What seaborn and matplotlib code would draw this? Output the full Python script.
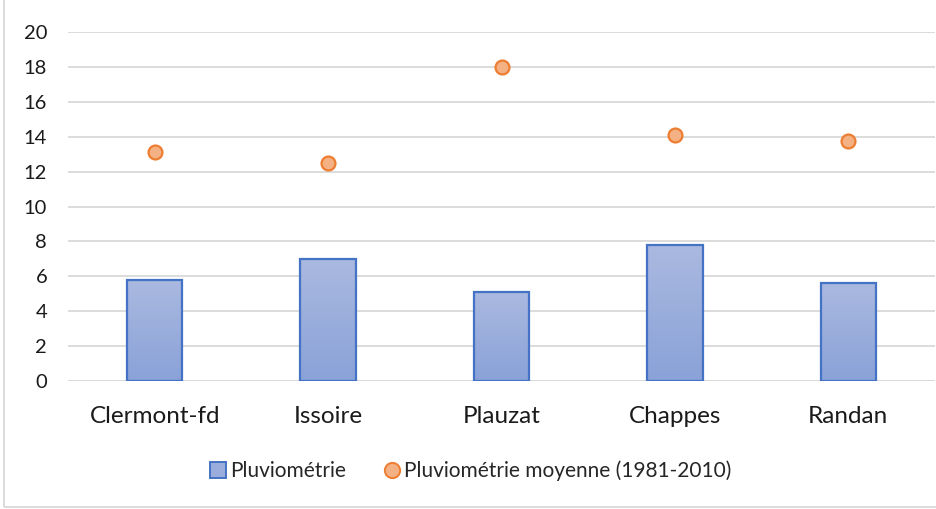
import numpy as np
import pandas as pd
import matplotlib
matplotlib.use("Agg")
import matplotlib.pyplot as plt
import seaborn as sns
from matplotlib.colors import LinearSegmentedColormap
from matplotlib.lines import Line2D
from matplotlib.patches import Rectangle

# Data
villes = ["Clermont-fd", "Issoire", "Plauzat", "Chappes", "Randan"]
pluvio = [5.8, 7.0, 5.1, 7.8, 5.6]
pluvio_moy = [13.1, 12.5, 18.0, 14.1, 13.75]
yticks = list(range(0, 21, 2))

df = pd.DataFrame({"ville": villes, "pluvio": pluvio, "moy": pluvio_moy})

sns.set_style("white")
plt.rcParams["font.family"] = ["Lato", "DejaVu Sans"]

fig = plt.figure(figsize=(9.36, 5.09), dpi=100)
ax = fig.add_axes([68 / 936, 1 - 381 / 509, 867 / 936, 349 / 509])

# bars
sns.barplot(data=df, x="ville", y="pluvio", ax=ax, width=0.32,
            color="#9AADDC", edgecolor="#4472C4", linewidth=1.6, zorder=3)

# gradient fill inside each bar
cmap = LinearSegmentedColormap.from_list("grad", ["#8AA2D8", "#AAB9E0"])
grad = np.linspace(0, 1, 256).reshape(-1, 1)
for p in ax.patches:
    x0, y0 = p.get_x(), p.get_y()
    w, h = p.get_width(), p.get_height()
    im = ax.imshow(grad, cmap=cmap, origin="lower", aspect="auto",
                   extent=[x0, x0 + w, y0, y0 + h], zorder=3.5)
    im.set_clip_path(p)
    p.set_facecolor("none")
    p.set_zorder(4)

# dots
sns.stripplot(data=df, x="ville", y="moy", ax=ax, jitter=False, size=10,
              color="#F4B183", edgecolor="#ED7D31", linewidth=1.6, zorder=5)

ax.set_xlim(-0.5, 4.5)
ax.set_ylim(0, 20)
ax.set_yticks(yticks)
ax.yaxis.grid(True, color="#D9D9D9", linewidth=1.3, zorder=0)
ax.set_axisbelow(True)
for s in ax.spines.values():
    s.set_visible(False)
ax.set_xlabel("")
ax.set_ylabel("")
ax.tick_params(axis="y", labelsize=14.5, length=0, pad=15, labelcolor="#1a1a1a")
ax.tick_params(axis="x", labelsize=17.5, length=0, pad=18, labelcolor="#1a1a1a")
ax.axhline(0, color="#D9D9D9", linewidth=1.3, zorder=1)

handles = [
    Line2D([], [], marker="s", linestyle="none", markersize=11,
           markerfacecolor="#9AADDC", markeredgecolor="#4472C4", markeredgewidth=1.4),
    Line2D([], [], marker="o", linestyle="none", markersize=11,
           markerfacecolor="#F4B183", markeredgecolor="#ED7D31", markeredgewidth=1.4),
]
fig.legend(handles, ["Pluviométrie", "Pluviométrie moyenne (1981-2010)"],
           loc="center", bbox_to_anchor=(470 / 936, 1 - 471 / 509), ncol=2,
           frameon=False, fontsize=15, handletextpad=0.1, columnspacing=1.8,
           handlelength=0.9)

# chart border
fig.patches.append(Rectangle((4 / 936, 2 / 509), 1.0, 1.2, transform=fig.transFigure,
                             fill=False, edgecolor="#D9D9D9", linewidth=1.3))

fig.savefig("out.png", dpi=100)
